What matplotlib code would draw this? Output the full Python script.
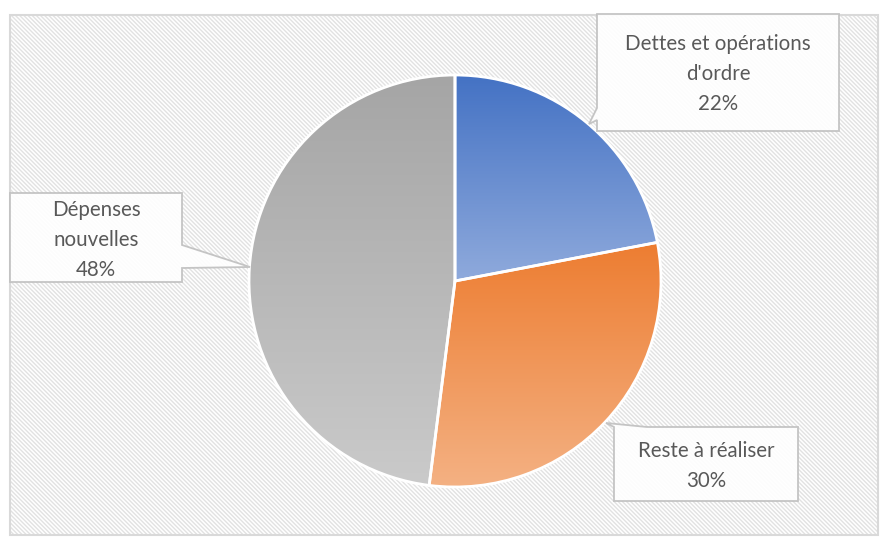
import numpy as np
import matplotlib
matplotlib.use("Agg")
import matplotlib.pyplot as plt
from matplotlib.colors import LinearSegmentedColormap
from matplotlib.patches import Rectangle, Polygon

# ---------------------------------------------------------
# Data
# ---------------------------------------------------------
labels = ["Dettes et opérations\nd'ordre", "Reste à réaliser", "Dépenses\nnouvelles"]
shares = [22, 30, 48]
top_colors = ["#4472C4", "#ED7D31", "#A5A5A5"]
bottom_colors = ["#8FAADC", "#F4B183", "#CACACA"]

W, H = 886, 541
plt.rcParams["hatch.linewidth"] = 1.0
plt.rcParams["hatch.color"] = "#E2E2E2"


def py(y):
    # pixel row (from top) -> data y (from bottom)
    return H - y


fig = plt.figure(figsize=(W / 100, H / 100), dpi=100)
ax = fig.add_axes([0, 0, 1, 1])

# chart area with diagonal hatch
ax.add_patch(Rectangle((10, py(535)), 868, 520, facecolor="white",
                       edgecolor="#E2E2E2", hatch="\\" * 8, lw=0, zorder=0))
ax.add_patch(Rectangle((10, py(535)), 868, 520, facecolor="none",
                       edgecolor="#D9D9D9", lw=1.5, zorder=1))

# ---------------------------------------------------------
# Pie
# ---------------------------------------------------------
cx, cy, r = 455, py(281), 206
wedges, _ = ax.pie(shares, center=(cx, cy), radius=r, startangle=90,
                   counterclock=False, frame=True,
                   wedgeprops=dict(facecolor="none", edgecolor="white", lw=2))
ax.set_xlim(0, W)
ax.set_ylim(0, H)
ax.set_aspect("equal")
ax.axis("off")

for w, c0, c1 in zip(wedges, top_colors, bottom_colors):
    w.set_zorder(4)
    bb = w.get_path().get_extents(w.get_patch_transform())
    cmap = LinearSegmentedColormap.from_list("g", [c0, c1])
    grad = np.linspace(0, 1, 256).reshape(-1, 1)
    im = ax.imshow(grad, cmap=cmap, aspect="auto", origin="upper",
                   extent=[bb.x0, bb.x1, bb.y0, bb.y1], zorder=3)
    im.set_clip_path(w)

# ---------------------------------------------------------
# Callouts
# ---------------------------------------------------------
box_style = dict(facecolor="white", alpha=0.9, edgecolor="#BFBFBF", lw=1.3, zorder=5)

callouts = [
    # polygon in pixel coords, text position, label index
    ([(597, 14), (839, 14), (839, 131), (597, 131), (597, 120), (589, 124),
      (597, 108)], (718, 74), 0),
    ([(10, 193), (182, 193), (182, 245), (250, 267), (182, 268), (182, 282),
      (10, 282)], (96, 240), 2),
    ([(614, 427), (606, 423), (647, 427), (798, 427), (798, 501), (614, 501)],
     (706, 466), 1),
]

for pts, (tx, ty), i in callouts:
    ax.add_patch(Polygon([(x, py(y)) for x, y in pts], closed=True, **box_style))
    ax.text(tx, py(ty), f"{labels[i]}\n{shares[i]}%", ha="center", va="center",
            fontsize=14.8, color="#595959", family="Lato", linespacing=1.6,
            zorder=6)

fig.savefig("out.png", dpi=100)
